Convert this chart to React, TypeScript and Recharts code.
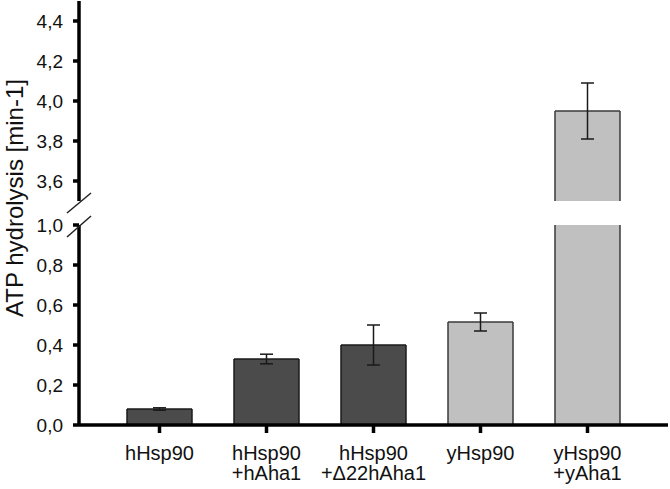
import React from "react";
import { Bar, BarChart, ErrorBar, XAxis, YAxis } from "recharts";

const categories = [
  "hHsp90",
  "hHsp90\n+hAha1",
  "hHsp90\n+Δ22hAha1",
  "yHsp90",
  "yHsp90\n+yAha1",
];
const activity = [0.08, 0.33, 0.4, 0.515, 3.95];
const errors = [0.006, 0.024, 0.1, 0.045, 0.14];
const isYeast = [false, false, false, true, true];
const lowerTicks = [0, 0.2, 0.4, 0.6, 0.8, 1.0];
const upperTicks = [3.6, 3.8, 4.0, 4.2, 4.4];

// axis break: lower panel 0..1, upper panel 3.5..4.5
const LOWER_MAX = 1.0;
const UPPER_MIN = 3.5;
const UPPER_MAX = 4.5;

const W = 670;
const H = 489;
const AXIS_X = 79;
const UPPER_TOP = 1;
const UPPER_BOTTOM = 201;
const LOWER_TOP = 225;
const X_AXIS_H = 64;

const FONT = "Arial, 'Liberation Sans', Helvetica, sans-serif";

const lowerData = categories.map((name, i) => ({
  name,
  value: Math.min(activity[i], LOWER_MAX),
  err: activity[i] > LOWER_MAX ? null : errors[i],
  broken: activity[i] > LOWER_MAX,
  yeast: isYeast[i],
}));

const upperData = categories.map((name, i) => ({
  name,
  value: activity[i] > UPPER_MIN ? activity[i] : null,
  err: activity[i] > UPPER_MIN ? errors[i] : null,
  broken: false,
  yeast: isYeast[i],
}));

const fmt = (v: number) => v.toFixed(1).replace(".", ",");

function BarShape(props: any) {
  const { x, y, width, height } = props;
  const p = props.payload || props;
  if (p.value == null || !height || height <= 0) return <g />;
  const fill = p.yeast ? "#c0c0c0" : "#4b4b4b";
  const stroke = p.yeast ? "#3a3a3a" : "#1a1a1a";
  const sw = 1.5;
  return (
    <g>
      <rect x={x} y={y} width={width} height={height} fill={fill} />
      <line x1={x} y1={y} x2={x} y2={y + height} stroke={stroke} strokeWidth={sw} />
      <line x1={x + width} y1={y} x2={x + width} y2={y + height} stroke={stroke} strokeWidth={sw} />
      {!p.broken && (
        <line x1={x} y1={y} x2={x + width} y2={y} stroke={stroke} strokeWidth={sw} />
      )}
    </g>
  );
}

function CategoryTick(props: any) {
  const { x, y, payload } = props;
  const lines = String(payload.value).split("\n");
  return (
    <text
      x={x}
      y={y}
      textAnchor="middle"
      fill="#111"
      fontSize={20}
      fontFamily={FONT}
    >
      {lines.map((l, i) => (
        <tspan key={i} x={x} dy={i === 0 ? 25 : 20}>
          {l}
        </tspan>
      ))}
    </text>
  );
}

const yTickStyle = { fill: "#111", fontSize: 19, fontFamily: FONT };
const axisLine = { stroke: "#000", strokeWidth: 3.5 };

export default function App() {
  return (
    <div
      style={{
        position: "absolute",
        left: 0,
        top: 0,
        width: W,
        height: H,
        background: "#fff",
      }}
    >
      {/* upper panel */}
      <div style={{ position: "absolute", left: 0, top: 0 }}>
        <BarChart
          width={W}
          height={H}
          data={upperData}
          margin={{ top: UPPER_TOP, right: 2, left: 0, bottom: H - UPPER_BOTTOM }}
          barSize={65}
        >
          <XAxis dataKey="name" hide padding={{ left: 27, right: 27 }} />
          <YAxis
            width={AXIS_X}
            domain={[UPPER_MIN, UPPER_MAX]}
            ticks={upperTicks}
            allowDataOverflow
            tickFormatter={fmt}
            tick={yTickStyle}
            tickSize={6}
            tickMargin={10}
            axisLine={axisLine}
            tickLine={axisLine}
          />
          <Bar dataKey="value" shape={<BarShape />} isAnimationActive={false}>
            <ErrorBar dataKey="err" width={6.5} stroke="#1a1a1a" strokeWidth={1.5} />
          </Bar>
        </BarChart>
      </div>

      {/* lower panel */}
      <div style={{ position: "absolute", left: 0, top: 0 }}>
        <BarChart
          width={W}
          height={H}
          data={lowerData}
          margin={{ top: LOWER_TOP, right: 2, left: 0, bottom: 0 }}
          barSize={65}
        >
          <XAxis
            dataKey="name"
            height={X_AXIS_H}
            padding={{ left: 27, right: 27 }}
            interval={0}
            tick={<CategoryTick />}
            tickSize={8}
            axisLine={axisLine}
            tickLine={axisLine}
          />
          <YAxis
            width={AXIS_X}
            domain={[0, LOWER_MAX]}
            ticks={lowerTicks}
            allowDataOverflow
            tickFormatter={fmt}
            tick={yTickStyle}
            tickSize={6}
            tickMargin={10}
            axisLine={axisLine}
            tickLine={axisLine}
          />
          <Bar dataKey="value" shape={<BarShape />} isAnimationActive={false}>
            <ErrorBar dataKey="err" width={6.5} stroke="#1a1a1a" strokeWidth={1.5} />
          </Bar>
        </BarChart>
      </div>

      {/* axis title and break marks */}
      <svg
        width={W}
        height={H}
        style={{ position: "absolute", left: 0, top: 0, pointerEvents: "none" }}
      >
        <text
          x={14}
          y={198}
          transform="rotate(-90, 14, 198)"
          textAnchor="middle"
          dominantBaseline="central"
          fontSize={24}
          fontFamily={FONT}
          fill="#111"
        >
          ATP hydrolysis [min-1]
        </text>
        <line
          x1={AXIS_X - 12}
          y1={UPPER_BOTTOM + 12}
          x2={AXIS_X + 12}
          y2={UPPER_BOTTOM - 8}
          stroke="#222"
          strokeWidth={1.5}
        />
        <line
          x1={AXIS_X - 12}
          y1={LOWER_TOP + 12}
          x2={AXIS_X + 12}
          y2={LOWER_TOP - 9}
          stroke="#222"
          strokeWidth={1.5}
        />
      </svg>
    </div>
  );
}
